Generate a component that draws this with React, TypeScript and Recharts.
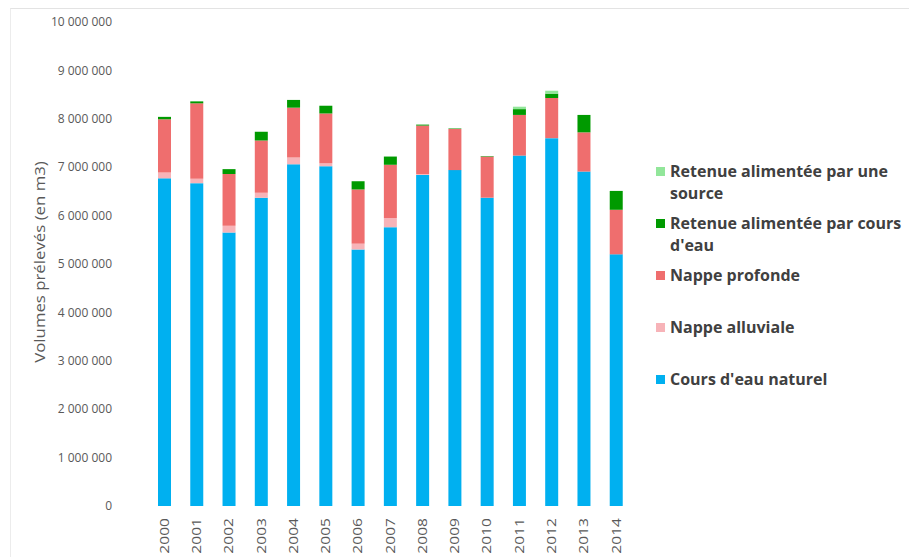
import { Bar, BarChart, XAxis, YAxis } from "recharts";

const years = ["2000", "2001", "2002", "2003", "2004", "2005", "2006", "2007", "2008", "2009", "2010", "2011", "2012", "2013", "2014"];
const coursEauNaturel = [6770000, 6670000, 5650000, 6370000, 7060000, 7020000, 5300000, 5760000, 6840000, 6940000, 6370000, 7240000, 7600000, 6910000, 5200000];
const nappeAlluviale = [120000, 90000, 140000, 100000, 140000, 60000, 120000, 190000, 20000, 0, 0, 0, 0, 0, 0];
const nappeProfonde = [1100000, 1560000, 1070000, 1080000, 1030000, 1030000, 1120000, 1100000, 1000000, 850000, 850000, 840000, 830000, 810000, 920000];
const retenueCoursEau = [50000, 40000, 100000, 180000, 160000, 160000, 170000, 170000, 20000, 10000, 10000, 120000, 90000, 360000, 390000];
const retenueSource = [0, 0, 0, 0, 0, 0, 0, 0, 0, 0, 0, 50000, 60000, 0, 0];
const yTicks = [0, 1000000, 2000000, 3000000, 4000000, 5000000, 6000000, 7000000, 8000000, 9000000, 10000000];

const series = [
  { key: "naturel", name: "Cours d'eau naturel", color: "#00b0f0", values: coursEauNaturel },
  { key: "alluviale", name: "Nappe alluviale", color: "#f7b3b8", values: nappeAlluviale },
  { key: "profonde", name: "Nappe profonde", color: "#ef6e6e", values: nappeProfonde },
  { key: "coursEau", name: "Retenue alimentée par cours d'eau", color: "#009a00", values: retenueCoursEau },
  { key: "source", name: "Retenue alimentée par une source", color: "#92e69a", values: retenueSource },
];

const data = years.map((year, i) => {
  const row: Record<string, string | number> = { year };
  series.forEach((s) => {
    row[s.key] = s.values[i];
  });
  return row;
});

const FONT = "'Open Sans', sans-serif";

const formatNumber = (n: number) => n.toString().replace(/\B(?=(\d{3})+(?!\d))/g, " ");

// rotated year labels, a bit stretched along their length like the source image
function YearTick({ x, y, payload }: { x?: number; y?: number; payload?: { value: string } }) {
  return (
    <g transform={`translate(${x},${(y ?? 0) + 4}) rotate(-90) scale(1.2,1)`}>
      <text dy="0.36em" textAnchor="end" fill="#595959" fontSize={13} fontFamily={FONT}>
        {payload?.value}
      </text>
    </g>
  );
}

function AxisTitle() {
  return (
    <g transform="translate(40,262) rotate(-90) scale(1.2,1)">
      <text textAnchor="middle" dominantBaseline="central" fill="#595959" fontSize={14} fontFamily={FONT}>
        Volumes prélevés (en m3)
      </text>
    </g>
  );
}

function SideLegend() {
  const items = [...series].reverse();
  return (
    <div style={{ position: "absolute", left: 656, top: 160, width: 253, fontFamily: FONT }}>
      {items.map((s) => (
        <div key={s.key} style={{ display: "flex", alignItems: "flex-start", height: 52 }}>
          <span
            style={{
              width: 9,
              height: 9,
              background: s.color,
              marginTop: 7,
              marginRight: 5,
              flex: "0 0 auto",
            }}
          />
          <span style={{ fontSize: 16, fontWeight: 700, color: "#404040", lineHeight: "22px" }}>
            {s.name}
          </span>
        </div>
      ))}
    </div>
  );
}

export default function App() {
  return (
    <div style={{ position: "absolute", left: 0, top: 0, width: 909, height: 557, background: "#fff", overflow: "hidden" }}>
      <div
        style={{
          position: "absolute",
          left: 10,
          top: 8,
          right: 0,
          bottom: 0,
          borderTop: "1px solid #e3e3e3",
          borderLeft: "1px solid #ececec",
        }}
      />
      <BarChart
        width={909}
        height={557}
        data={data}
        margin={{ top: 22, right: 277, bottom: 0, left: 0 }}
        style={{ position: "absolute", left: 0, top: 0 }}
      >
        <XAxis
          dataKey="year"
          axisLine={false}
          tickLine={false}
          height={51}
          interval={0}
          tick={<YearTick />}
        />
        <YAxis
          width={148}
          domain={[0, 10000000]}
          ticks={yTicks}
          axisLine={false}
          tickLine={false}
          tickSize={0}
          tickMargin={36}
          tickFormatter={formatNumber}
          tick={{ fill: "#595959", fontSize: 12, fontFamily: FONT }}
          label={<AxisTitle />}
        />
        {series.map((s) => (
          <Bar
            key={s.key}
            dataKey={s.key}
            name={s.name}
            stackId="a"
            fill={s.color}
            barSize={13}
            isAnimationActive={false}
          />
        ))}
      </BarChart>
      <SideLegend />
    </div>
  );
}
